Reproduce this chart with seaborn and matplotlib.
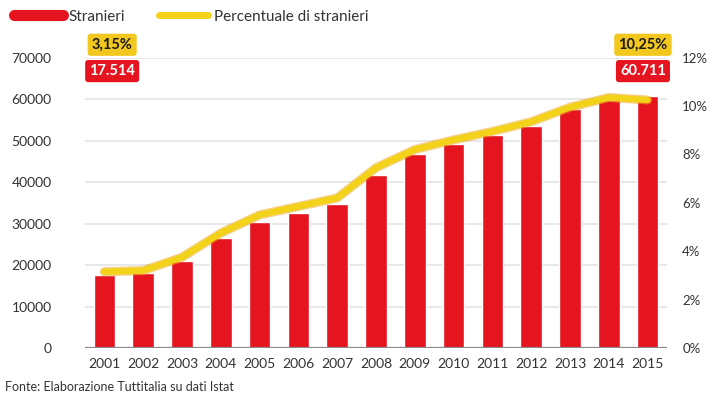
import matplotlib
matplotlib.use("Agg")
import matplotlib.pyplot as plt
import matplotlib.patheffects as pe
from matplotlib.lines import Line2D
from matplotlib.ticker import FuncFormatter, MultipleLocator
import seaborn as sns
import pandas as pd

# Foreign residents per year and their share of the population
years = ["2001", "2002", "2003", "2004", "2005", "2006", "2007", "2008",
         "2009", "2010", "2011", "2012", "2013", "2014", "2015"]
stranieri = [17514, 18000, 21000, 26400, 30400, 32600, 34700, 41600,
             46750, 49100, 51300, 53500, 57500, 59900, 60711]
percentuale = [3.15, 3.2, 3.75, 4.75, 5.5, 5.85, 6.2, 7.45,
               8.2, 8.6, 8.95, 9.35, 9.95, 10.35, 10.25]
first_label = ("3,15%", "17.514")
last_label = ("10,25%", "60.711")

RED = "#E5141F"
YELLOW = "#F2D319"
ORANGE = "#F0A81A"
TXT = "#333333"

df = pd.DataFrame({"anno": years, "stranieri": stranieri, "perc": percentuale})

sns.set_theme(style="white")
plt.rcParams["font.family"] = ["Lato", "DejaVu Sans"]

fig = plt.figure(figsize=(7.12, 4.03), dpi=100)
ax = fig.add_axes([0.1194, 0.1365, 0.8174, 0.7205])

sns.barplot(data=df, x="anno", y="stranieri", color=RED, saturation=1,
            width=0.56, ax=ax)
ax.set_ylim(0, 70000)
ax.set_xlim(-0.5, 14.5)
ax.yaxis.set_major_locator(MultipleLocator(10000))
ax.grid(axis="y", color="#e4e4e4", linewidth=1.2)
ax.set_axisbelow(True)
for s in ax.spines.values():
    s.set_visible(False)
ax.axhline(0, color="#8a8a8a", linewidth=1.6, zorder=5)
ax.set_xlabel("")
ax.set_ylabel("")
ax.tick_params(axis="both", length=0, labelsize=10, labelcolor=TXT)
ax.tick_params(axis="y", pad=24)
ax.tick_params(axis="x", pad=7)

ax2 = ax.twinx()
sns.pointplot(data=df, x="anno", y="perc", color=YELLOW, markers="",
              linestyles="-", linewidth=4.5, ax=ax2)
for ln in ax2.lines:
    ln.set_solid_joinstyle("round")
    ln.set_solid_capstyle("round")
    ln.set_path_effects([pe.Stroke(linewidth=6.5, foreground=ORANGE, alpha=0.55),
                         pe.Normal()])
ax2.set_ylim(0, 12)
ax2.set_xlim(-0.5, 14.5)
ax2.yaxis.set_major_locator(MultipleLocator(2))
ax2.yaxis.set_major_formatter(FuncFormatter(lambda v, p: f"{v:.0f}%"))
for s in ax2.spines.values():
    s.set_visible(False)
ax2.set_ylabel("")
ax2.set_xlabel("")
ax2.grid(False)
ax2.tick_params(axis="y", length=0, labelsize=9.5, labelcolor=TXT, pad=11)

# Value boxes for the first and last year
box_kw = dict(ha="center", va="center", fontsize=10.5, fontweight="bold",
              clip_on=False, zorder=10)
for xpos, (pct_txt, val_txt) in [(0.2, first_label), (13.88, last_label)]:
    ax.text(xpos, 73100, pct_txt, color="#1a1a1a",
            bbox=dict(boxstyle="round,pad=0.28,rounding_size=0.2",
                      fc="#F2C71E", ec="none"), **box_kw)
    ax.text(xpos, 66750, val_txt, color="white",
            bbox=dict(boxstyle="round,pad=0.28,rounding_size=0.2",
                      fc=RED, ec="none"), **box_kw)

# Legend
handles = [
    Line2D([], [], color=RED, linewidth=8, solid_capstyle="round"),
    Line2D([], [], color=YELLOW, linewidth=5, solid_capstyle="round"),
]
fig.legend(handles, ["Stranieri", "Percentuale di stranieri"],
           loc="upper left", bbox_to_anchor=(0.0, 1.01), ncol=2, frameon=False,
           fontsize=11, handlelength=3.2, handletextpad=0.4, columnspacing=2.2,
           labelcolor=TXT)

fig.text(0.007, 0.025, "Fonte: Elaborazione Tuttitalia su dati Istat",
         fontsize=9, color=TXT, ha="left", va="bottom")

fig.savefig("out.png", dpi=100)
